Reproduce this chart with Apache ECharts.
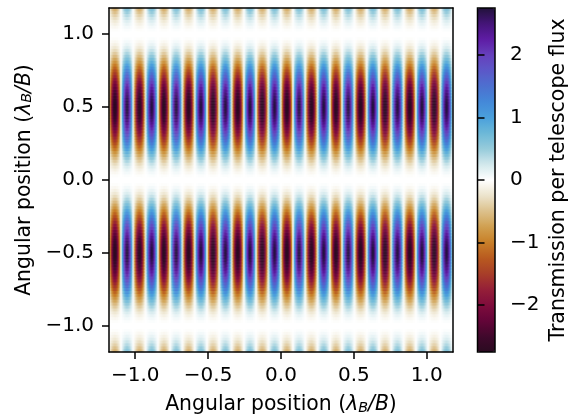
<!DOCTYPE html>
<html lang="en">
<head>
	<meta charset="UTF-8">
	<title>Transmission map</title>
	<script src="https://cdn.jsdelivr.net/npm/echarts@6/dist/echarts.min.js"></script>
	<style>html,body{margin:0;padding:0;background:#fff}</style>
</head>
<body>
	<div id="app" style="width:585px;height:417px"></div>
	<script>
		// one quarter of a stripe period, rows going outward from y=0 in steps of 0.02
		var quarterTile=[
			[0,0,0,0,0,0],
			[0,.01,.01,.02,.02,.02],
			[.01,.03,.04,.06,.06,.07],
			[.02,.05,.08,.10,.12,.13],
			[.03,.08,.13,.17,.19,.21],
			[.04,.12,.19,.25,.29,.31],
			[.06,.16,.26,.34,.40,.43],
			[.07,.21,.34,.44,.52,.55],
			[.09,.27,.43,.56,.66,.70],
			[.11,.33,.52,.68,.79,.85],
			[.13,.39,.63,.82,.95,1.02],
			[.16,.46,.72,.94,1.10,1.18],
			[.18,.52,.83,1.09,1.27,1.36],
			[.20,.59,.94,1.22,1.42,1.53],
			[.22,.65,1.04,1.35,1.57,1.68],
			[.24,.72,1.14,1.48,1.73,1.85],
			[.26,.77,1.23,1.60,1.87,2.00],
			[.28,.83,1.32,1.72,2.01,2.15],
			[.30,.88,1.40,1.82,2.13,2.28],
			[.32,.93,1.47,1.92,2.24,2.40],
			[.33,.97,1.53,2.00,2.33,2.50],
			[.34,1.00,1.58,2.06,2.40,2.58],
			[.35,1.02,1.62,2.11,2.46,2.64],
			[.36,1.04,1.65,2.15,2.50,2.69],
			[.36,1.05,1.66,2.16,2.52,2.71],
			[.36,1.05,1.66,2.16,2.52,2.71],
			[.36,1.04,1.65,2.15,2.50,2.69],
			[.35,1.02,1.62,2.11,2.46,2.64],
			[.34,1.00,1.58,2.06,2.40,2.58],
			[.33,.97,1.53,2.00,2.33,2.50],
			[.32,.93,1.47,1.92,2.24,2.40],
			[.30,.88,1.40,1.82,2.13,2.28],
			[.28,.83,1.32,1.72,2.01,2.15],
			[.26,.77,1.23,1.60,1.87,2.00],
			[.24,.72,1.14,1.48,1.73,1.85],
			[.22,.65,1.04,1.35,1.57,1.68],
			[.20,.59,.94,1.22,1.42,1.53],
			[.18,.52,.83,1.09,1.27,1.36],
			[.16,.46,.72,.94,1.10,1.18],
			[.13,.39,.63,.82,.95,1.02],
			[.11,.33,.52,.68,.79,.85],
			[.09,.27,.43,.56,.66,.70],
			[.07,.21,.34,.44,.52,.55],
			[.06,.16,.26,.34,.40,.43],
			[.04,.12,.19,.25,.29,.31],
			[.03,.08,.13,.17,.19,.21],
			[.02,.05,.08,.10,.12,.13],
			[.01,.03,.04,.06,.06,.07],
			[0,.01,.01,.02,.02,.02],
			[0,0,0,0,0,0],
			[0,0,0,0,0,0],
			[0,.01,.01,.02,.02,.02],
			[.01,.03,.04,.06,.06,.07],
			[.02,.05,.08,.10,.12,.13],
			[.03,.08,.12,.16,.18,.20],
			[.04,.11,.18,.23,.27,.29],
			[.05,.15,.24,.31,.36,.39],
			[.07,.19,.30,.40,.46,.50],
			[.08,.24,.38,.49,.57,.61]
		];
		var xTicks=[-1,-0.5,0,0.5,1];
		var yTicks=[-1,-0.5,0,0.5,1];
		var barTicks=[-2,-1,0,1,2];
		var stripeColors=['#2a0a20','#40082c','#640538','#7f0c3c','#951f38','#a83e28','#b85a20','#c87f28','#d0a050','#dcc08c','#ece4cc','#ffffff',
			'#d2e8ec','#96cbdb','#6cb8d8','#4aa0dc','#4488d8','#4c70d0','#5c58c8','#6640bc','#5e1ca4','#441478','#22123a'];

		var colsPerHalf=12, halfStripes=28, rows=quarterTile.length*2;
		var xCats=[], yCats=[], cells=[];
		for(var i=0;i<colsPerHalf*halfStripes;i++) xCats.push(i);
		for(var j=0;j<rows;j++) yCats.push(j);
		for(i=0;i<xCats.length;i++){
			var k=i%colsPerHalf, q=k<colsPerHalf/2?k:colsPerHalf-1-k, sign=Math.floor(i/colsPerHalf)%2==0?-1:1;
			for(j=0;j<rows;j++){
				var r=j<rows/2?rows/2-1-j:j-rows/2;
				cells.push([i,j,sign*quarterTile[r][q]]);
			}
		}

		function tickText(v){return v.toFixed(1).replace('-','\u2212')}
		var font='"DejaVu Sans"', black='#000', lw=1.5;
		var nameRich={
			n:{fontFamily:font,fontSize:20.4,color:black},
			i:{fontFamily:font,fontSize:20.4,fontStyle:'italic',color:black},
			s:{fontFamily:font,fontSize:14.3,fontStyle:'italic',color:black,padding:[6,0,0,0]}
		};
		var posName='{n|Angular position (}{i|\u03bb}{s|B}{i|/B}{n|)}';
		function valueAxis(ticks,extra){
			return Object.assign({
				type:'value',min:-1.18,max:1.18,gridIndex:0,z:5,
				splitLine:{show:false},
				axisLine:{show:true,onZero:false,lineStyle:{color:black,width:lw}},
				axisTick:{show:true,length:7,customValues:ticks,lineStyle:{color:black,width:lw}},
				axisLabel:{customValues:ticks,formatter:tickText,fontFamily:font,fontSize:20,color:black,hideOverlap:false,showMinLabel:true,showMaxLabel:true},
				nameLocation:'middle',
				nameTextStyle:{rich:nameRich}
			},extra);
		}
		function frameAxis(pos,data){
			return {type:'category',data:data,position:pos,gridIndex:0,z:5,
				axisLine:{show:true,onZero:false,lineStyle:{color:black,width:lw}},
				axisTick:{show:false},axisLabel:{show:false},splitLine:{show:false}};
		}
		function withMargin(axis,m){axis.axisLabel.margin=m;return axis}

		var myChart=echarts.init(document.getElementById('app'));
		var option={
			animation:false,
			backgroundColor:'#fff',
			grid:[
				{left:109,top:8,width:344,height:344,outerBoundsMode:'none'},
				{left:477.5,top:8,width:17.5,height:344,outerBoundsMode:'none',show:true,z:10,backgroundColor:'transparent',borderColor:black,borderWidth:lw}
			],
			xAxis:[
				frameAxis('top',xCats),
				withMargin(valueAxis(xTicks,{position:'bottom',name:posName,nameGap:43}),14),
				{type:'value',gridIndex:1,min:0,max:1,show:false}
			],
			yAxis:[
				frameAxis('right',yCats),
				withMargin(valueAxis(yTicks,{position:'left',name:posName,nameGap:73}),15),
				{type:'value',gridIndex:1,position:'right',min:-2.75,max:2.75,z:11,
					splitLine:{show:false},
					axisLine:{show:false},
					axisTick:{show:true,length:7,customValues:barTicks,lineStyle:{color:black,width:lw}},
					axisLabel:{customValues:barTicks,formatter:function(v){return String(v).replace('-','\u2212')},fontFamily:font,fontSize:20,color:black,margin:15},
					name:'Transmission per telescope flux',nameLocation:'middle',nameRotate:90,nameGap:53,
					nameTextStyle:{fontFamily:font,fontSize:20.5,color:black}
				}
			],
			visualMap:{
				type:'continuous',min:-2.75,max:2.75,seriesIndex:0,
				left:477.5,top:8,itemWidth:17.5,itemHeight:344,padding:0,
				calculable:false,hoverLink:false,text:null,showLabel:false,
				textStyle:{fontSize:0},
				inRange:{color:stripeColors}
			},
			series:[{
				type:'heatmap',xAxisIndex:0,yAxisIndex:0,data:cells,progressive:0,
				itemStyle:{borderWidth:0},emphasis:{disabled:true}
			}]
		};
		myChart.setOption(option);
	</script>
</body>
</html>
